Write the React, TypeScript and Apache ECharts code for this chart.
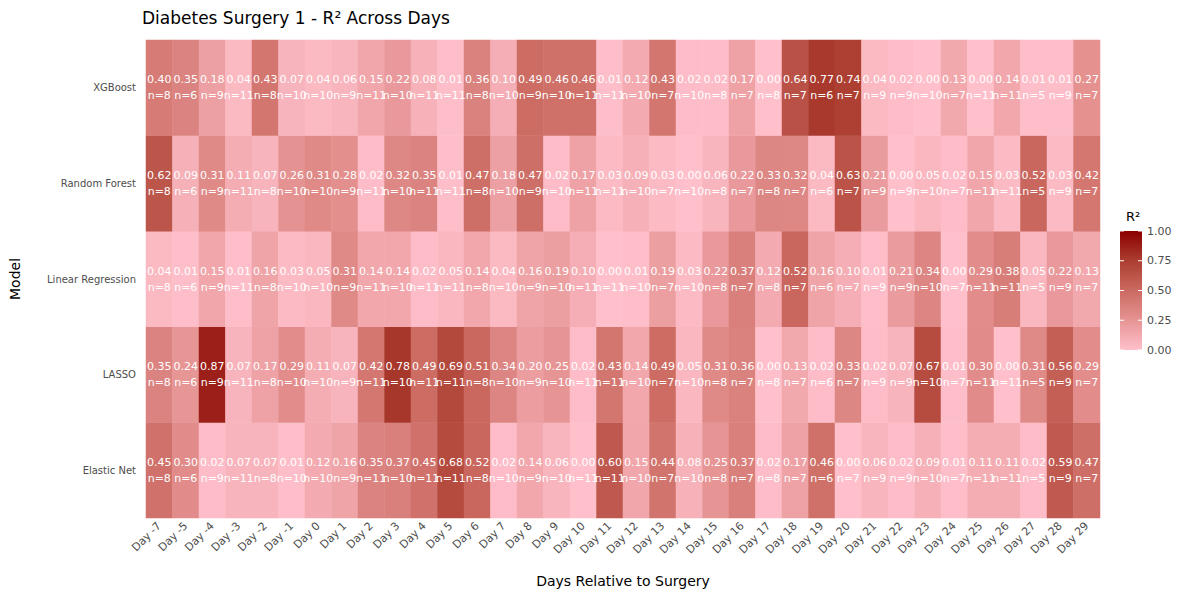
import React, { useEffect, useRef } from "react";
import * as echarts from "echarts";

const days = ["Day -7","Day -5","Day -4","Day -3","Day -2","Day -1","Day 0","Day 1","Day 2","Day 3","Day 4","Day 5","Day 6","Day 7","Day 8","Day 9","Day 10","Day 11","Day 12","Day 13","Day 14","Day 15","Day 16","Day 17","Day 18","Day 19","Day 20","Day 21","Day 22","Day 23","Day 24","Day 25","Day 26","Day 27","Day 28","Day 29"];
const models = ["Elastic Net", "LASSO", "Linear Regression", "Random Forest", "XGBoost"];
const nCounts = [8,6,9,11,8,10,10,9,11,10,11,11,8,10,9,10,11,11,10,7,10,8,7,8,7,6,7,9,9,10,7,11,11,5,9,7];

const xgboost = [0.40,0.35,0.18,0.04,0.43,0.07,0.04,0.06,0.15,0.22,0.08,0.01,0.36,0.10,0.49,0.46,0.46,0.01,0.12,0.43,0.02,0.02,0.17,0.00,0.64,0.77,0.74,0.04,0.02,0.00,0.13,0.00,0.14,0.01,0.01,0.27];
const randomForest = [0.62,0.09,0.31,0.11,0.07,0.26,0.31,0.28,0.02,0.32,0.35,0.01,0.47,0.18,0.47,0.02,0.17,0.03,0.09,0.03,0.00,0.06,0.22,0.33,0.32,0.04,0.63,0.21,0.00,0.05,0.02,0.15,0.03,0.52,0.03,0.42];
const linearRegression = [0.04,0.01,0.15,0.01,0.16,0.03,0.05,0.31,0.14,0.14,0.02,0.05,0.14,0.04,0.16,0.19,0.10,0.00,0.01,0.19,0.03,0.22,0.37,0.12,0.52,0.16,0.10,0.01,0.21,0.34,0.00,0.29,0.38,0.05,0.22,0.13];
const lasso = [0.35,0.24,0.87,0.07,0.17,0.29,0.11,0.07,0.42,0.78,0.49,0.69,0.51,0.34,0.20,0.25,0.02,0.43,0.14,0.49,0.05,0.31,0.36,0.00,0.13,0.02,0.33,0.02,0.07,0.67,0.01,0.30,0.00,0.31,0.56,0.29];
const elasticNet = [0.45,0.30,0.02,0.07,0.07,0.01,0.12,0.16,0.35,0.37,0.45,0.68,0.52,0.02,0.14,0.06,0.00,0.60,0.15,0.44,0.08,0.25,0.37,0.02,0.17,0.46,0.00,0.06,0.02,0.09,0.01,0.11,0.11,0.02,0.59,0.47];

const legendTicks = ["1.00", "0.75", "0.50", "0.25", "0.00"];
const colorStops = ["#FFC0CB", "#E69494", "#CB6A61", "#AC3E31", "#8B0000"];

export default function App() {
  const ref = useRef<HTMLDivElement>(null);
  useEffect(() => {
    document.body.style.margin = "0";
    if (!ref.current) return;
    const chart = echarts.init(ref.current, null, { renderer: "svg" });
    const rows = [elasticNet, lasso, linearRegression, randomForest, xgboost];
    const data: any[] = [];
    rows.forEach((row, yi) => {
      row.forEach((v, xi) => data.push([xi, yi, v]));
    });
    const font = "DejaVu Sans";
    const barTop = 231, barH = 119, barX = 1120, barW = 22;
    const graphics: any[] = [
      {
        type: "text",
        x: 1126,
        y: 210,
        style: { text: "R²", fontSize: 13, fontFamily: font, fontWeight: "normal", fill: "#000" },
      },
      {
        type: "rect",
        shape: { x: barX, y: barTop, width: barW, height: barH },
        style: {
          fill: new echarts.graphic.LinearGradient(0, 0, 0, 1,
            colorStops.slice().reverse().map((c, i) => ({ offset: i / (colorStops.length - 1), color: c }))),
        },
      },
    ];
    legendTicks.forEach((t, i) => {
      const y = barTop + (barH * i) / (legendTicks.length - 1);
      graphics.push({
        type: "text",
        x: barX + barW + 5,
        y: y,
        style: { text: t, fontSize: 11, fontFamily: font, fill: "#4D4D4D", verticalAlign: "middle" },
      });
      graphics.push({ type: "line", shape: { x1: barX, y1: y, x2: barX + 4, y2: y }, style: { stroke: "#fff", lineWidth: 1 } });
      graphics.push({ type: "line", shape: { x1: barX + barW - 4, y1: y, x2: barX + barW, y2: y }, style: { stroke: "#fff", lineWidth: 1 } });
    });
    chart.setOption({
      animation: false,
      backgroundColor: "#fff",
      title: {
        text: "Diabetes Surgery 1 - R² Across Days",
        left: 137,
        top: 4,
        textStyle: { fontFamily: font, fontSize: 17, fontWeight: "normal", color: "#000" },
      },
      grid: { left: 143, right: 100, top: 40, bottom: 82 },
      xAxis: {
        type: "category",
        data: days,
        name: "Days Relative to Surgery",
        nameLocation: "middle",
        nameGap: 56,
        nameTextStyle: { fontFamily: font, fontSize: 14, color: "#000" },
        axisLine: { show: false },
        axisTick: { show: false },
        splitLine: { show: false },
        axisLabel: { rotate: 45, fontFamily: font, fontSize: 11, color: "#4D4D4D", margin: 6, interval: 0 },
      },
      yAxis: {
        type: "category",
        data: models,
        name: "Model",
        nameLocation: "middle",
        nameGap: 124,
        nameTextStyle: { fontFamily: font, fontSize: 14, color: "#000" },
        axisLine: { show: false },
        axisTick: { show: false },
        splitLine: { show: false },
        axisLabel: { fontFamily: font, fontSize: 10, color: "#4D4D4D", margin: 10 },
      },
      visualMap: {
        show: false,
        min: 0,
        max: 1,
        dimension: 2,
        inRange: { color: colorStops },
      },
      graphic: graphics,
      series: [
        {
          type: "heatmap",
          data,
          label: {
            show: true,
            color: "#fff",
            fontFamily: font,
            fontSize: 11,
            lineHeight: 16,
            formatter: (p: any) => `${p.value[2].toFixed(2)}\nn=${nCounts[p.value[0]]}`,
          },
          itemStyle: { borderWidth: 0 },
          emphasis: { disabled: true },
        },
      ],
    });
    return () => chart.dispose();
  }, []);
  return <div ref={ref} style={{ width: 1200, height: 600 }} />;
}
